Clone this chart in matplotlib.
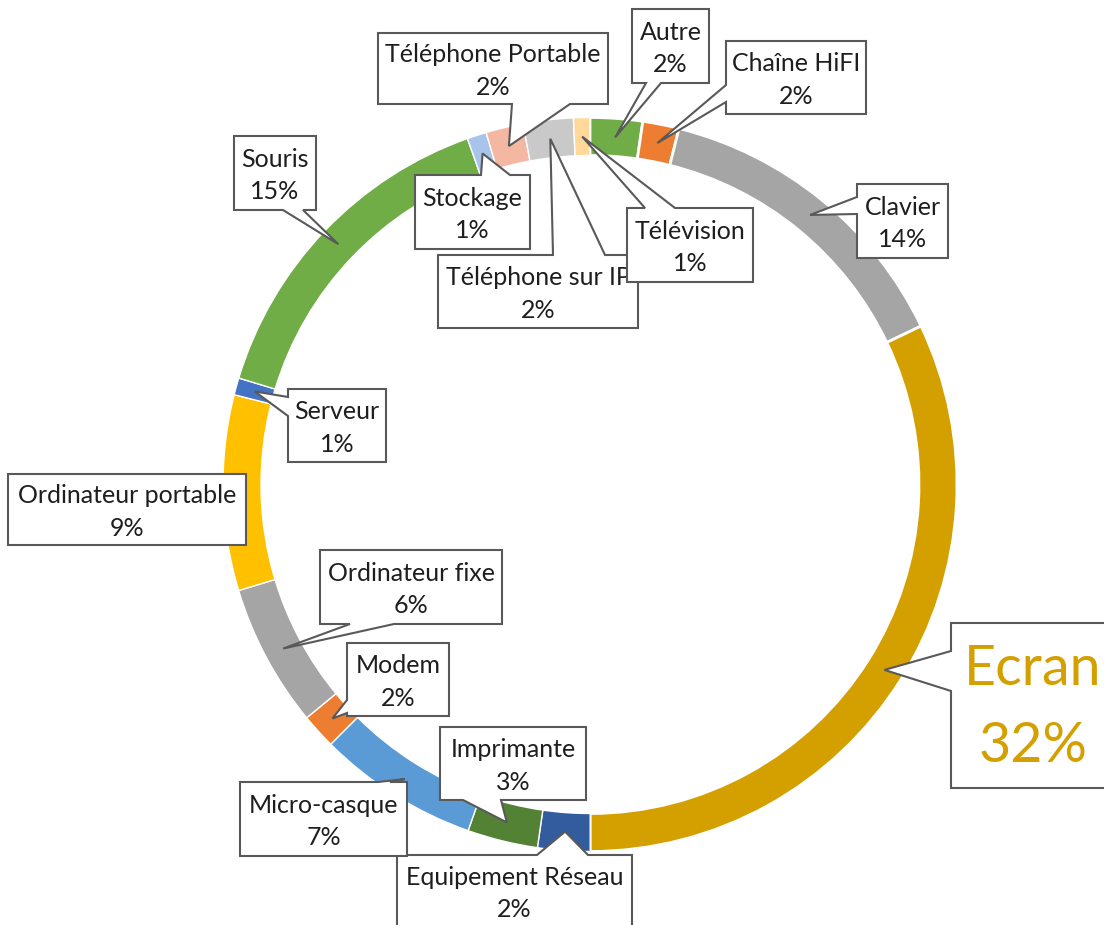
import matplotlib
matplotlib.use("Agg")
import numpy as np
import matplotlib.pyplot as plt
from matplotlib.patches import Polygon

# data (share of each equipment type, clockwise from the top)
labels = ["Autre", "Chaîne HiFI", "Clavier", "Ecran", "Equipement Réseau",
          "Imprimante", "Micro-casque", "Modem", "Ordinateur fixe",
          "Ordinateur portable", "Serveur", "Souris", "Stockage",
          "Téléphone Portable", "Téléphone sur IP", "Télévision"]
values = [2.3, 1.6, 14.0, 32.1, 2.3, 3.1, 7.1, 1.55, 6.3, 8.6, 0.75, 14.9,
          0.85, 1.65, 2.2, 0.72]
colors = ["#70AD47", "#ED7D31", "#A5A5A5", "#D4A000", "#335C9F", "#548235",
          "#5B9BD5", "#ED7D31", "#A5A5A5", "#FFC000", "#4472C4", "#70AD47",
          "#A9C4EA", "#F4B8A2", "#C9C9C9", "#FFD89A"]

# callout boxes in pixels (x0, y0, x1, y1) and tail (side, base start, base end)
boxes = [(632, 9, 709, 83), (726, 41, 866, 114), (857, 184, 948, 258),
         (951, 623, 1115, 788), (397, 855, 632, 927), (440, 727, 586, 800),
         (240, 782, 407, 856), (347, 643, 449, 716), (320, 550, 502, 624),
         (8, 474, 246, 545), (288, 389, 386, 462), (234, 136, 316, 210),
         (415, 175, 530, 249), (378, 33, 608, 104), (438, 255, 638, 328),
         (627, 208, 753, 282)]
tails = [("bottom", 646, 661), ("left", 85, 102), ("left", 197, 214),
         ("left", 651, 691), ("top", 537, 588), ("bottom", 463, 501),
         ("top", 378, 390), ("left", 700, 713), ("bottom", 350, 394),
         None, ("left", 397, 416), ("bottom", 283, 303),
         ("top", 481, 510), ("bottom", 512, 570), ("top", 553, 605),
         ("top", 645, 675)]

W, H = 1104, 925
cx, cy = 590, 484.5
R, ring = 367, 38

fig = plt.figure(figsize=(W / 100, H / 100), dpi=100)
ax = fig.add_axes([0, 0, 1, 1])

# y axis is flipped below, so -90 is the top and counterclock goes clockwise
wedges, _ = ax.pie(values, colors=colors, startangle=-90, counterclock=True,
                   radius=R, center=(cx, cy),
                   wedgeprops=dict(width=ring, edgecolor="white", linewidth=1.0))
for w in wedges[:4]:
    w.set_linewidth(2.0)

ax.set_xlim(0, W)
ax.set_ylim(H, 0)
ax.set_aspect("equal")
ax.axis("off")

total = sum(values)
rmid = R - ring / 2
for i, (lab, val) in enumerate(zip(labels, values)):
    x0, y0, x1, y1 = boxes[i]
    th = np.deg2rad((wedges[i].theta1 + wedges[i].theta2) / 2)
    tip = (cx + rmid * np.cos(th), cy + rmid * np.sin(th))

    pts = [(x0, y0), (x1, y0), (x1, y1), (x0, y1)]
    t = tails[i]
    if t is not None:
        side, a, b = t
        if side == "top":
            pts = [(x0, y0), (a, y0), tip, (b, y0), (x1, y0), (x1, y1), (x0, y1)]
        elif side == "right":
            pts = [(x0, y0), (x1, y0), (x1, a), tip, (x1, b), (x1, y1), (x0, y1)]
        elif side == "bottom":
            pts = [(x0, y0), (x1, y0), (x1, y1), (b, y1), tip, (a, y1), (x0, y1)]
        else:
            pts = [(x0, y0), (x1, y0), (x1, y1), (x0, y1), (x0, b), tip, (x0, a)]
    ax.add_patch(Polygon(pts, closed=True, facecolor="white", edgecolor="#595959",
                         linewidth=1.5, joinstyle="miter", zorder=3 + i * 0.01))

    pct = round(val / total * 100)
    big = lab == "Ecran"
    ax.text((x0 + x1) / 2, (y0 + y1) / 2 + 2.5, f"{lab}\n{pct}%", ha="center",
            va="center", family="Lato", fontsize=40 if big else 18,
            color=colors[i] if big else "#1E1E1E",
            linespacing=1.64 if big else 1.48,
            zorder=3 + i * 0.01 + 0.005)

fig.savefig("out.png", dpi=100)
